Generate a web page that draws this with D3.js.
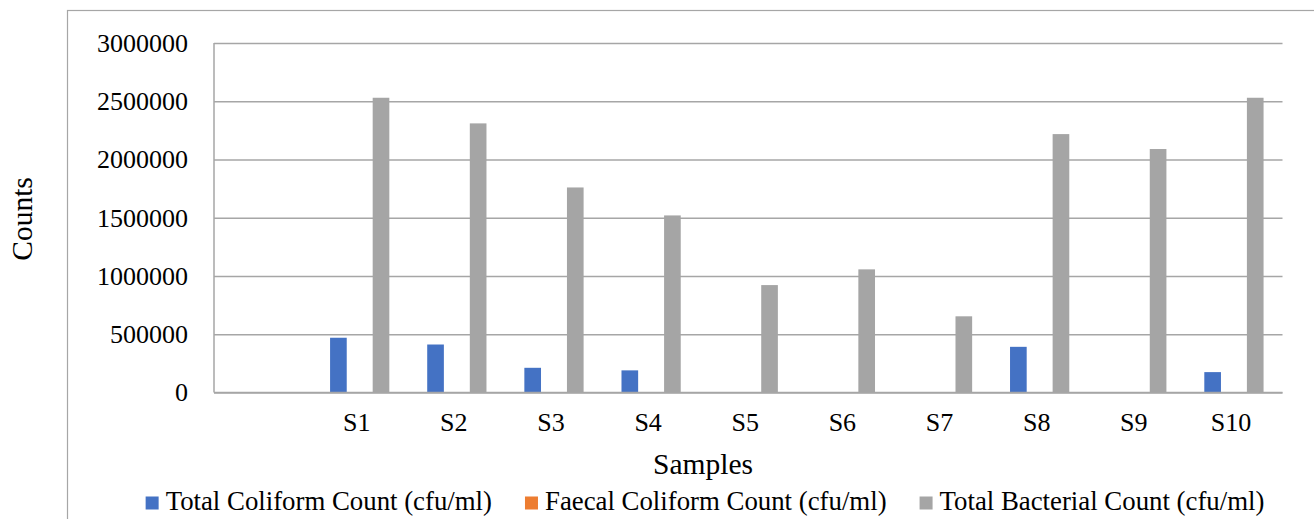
<!DOCTYPE html>
<html>
<head>
<meta charset="utf-8">
<script src="https://cdn.jsdelivr.net/npm/d3@7"></script>
<style>
  html, body { margin: 0; padding: 0; background: #ffffff; }
  svg { display: block; }
  text { font-family: "Liberation Serif", "Times New Roman", serif; fill: #000; }
</style>
</head>
<body>
<svg id="chart" width="1314" height="519"></svg>
<script>
// Sample categories (the first, unlabeled slot is left empty)
const categories = ["", "S1", "S2", "S3", "S4", "S5", "S6", "S7", "S8", "S9", "S10"];
const seriesNames = ["Total Coliform Count (cfu/ml)", "Faecal Coliform Count (cfu/ml)", "Total Bacterial Count (cfu/ml)"];
const seriesColors = ["#4472C4", "#ED7D31", "#A5A5A5"];

// Counts per sample (cfu/ml)
const totalColiform   = [0, 470000, 412000, 212000, 190000, 0, 0, 0, 392000, 0, 175000];
const faecalColiform  = [0, 0, 0, 0, 0, 0, 0, 0, 0, 0, 0];
const totalBacterial  = [0, 2530000, 2310000, 1760000, 1520000, 922000, 1057000, 654000, 2218000, 2090000, 2530000];

const yTicks = [0, 500000, 1000000, 1500000, 2000000, 2500000, 3000000];

const seriesValues = [totalColiform, faecalColiform, totalBacterial];
const serif = "'Liberation Serif', 'Times New Roman', serif";

const svg = d3.select("#chart");

// Chart-area border
svg.append("rect")
  .attr("x", 67.5).attr("y", 10.5)
  .attr("width", 1300).attr("height", 600)
  .attr("fill", "none").attr("stroke", "#a6a6a6").attr("stroke-width", 1.2);

const plot = { left: 214, right: 1282.5, top: 43, bottom: 392.5 };

const x0 = d3.scaleBand()
  .domain(categories)
  .range([plot.left, plot.right])
  .paddingInner(0.39)
  .paddingOuter(0.195);

const x1 = d3.scaleBand()
  .domain(d3.range(seriesNames.length))
  .range([0, x0.bandwidth()])
  .paddingInner(0.218)
  .paddingOuter(0);

const y = d3.scaleLinear()
  .domain([0, 3000000])
  .range([plot.bottom, plot.top]);

// Horizontal gridlines and value labels
const yAxis = d3.axisLeft(y)
  .tickValues(yTicks)
  .tickFormat(d3.format("d"))
  .tickSize(-(plot.right - plot.left))
  .tickPadding(26);

const gy = svg.append("g")
  .attr("transform", `translate(${plot.left},0)`)
  .call(yAxis);
gy.select(".domain").remove();
gy.selectAll(".tick line")
  .attr("stroke", "#a6a6a6").attr("stroke-width", 1.5);
gy.selectAll(".tick text")
  .attr("font-size", 26)
  .style("font-family", serif)
  .attr("fill", "#000");

// Left axis line
svg.append("line")
  .attr("x1", plot.left).attr("x2", plot.left)
  .attr("y1", plot.top).attr("y2", plot.bottom)
  .attr("stroke", "#a6a6a6").attr("stroke-width", 1.5);

// Bars
const groups = svg.append("g").selectAll("g")
  .data(categories)
  .join("g")
  .attr("transform", d => `translate(${x0(d)},0)`);

groups.selectAll("rect")
  .data((d, i) => seriesValues.map((vals, s) => ({ s, v: vals[i] })))
  .join("rect")
  .attr("x", d => x1(d.s))
  .attr("width", x1.bandwidth())
  .attr("y", d => y(d.v))
  .attr("height", d => y(0) - y(d.v))
  .attr("fill", d => seriesColors[d.s]);

// Zero line on top of bars
svg.append("line")
  .attr("x1", plot.left).attr("x2", plot.right)
  .attr("y1", y(0)).attr("y2", y(0))
  .attr("stroke", "#a6a6a6").attr("stroke-width", 1.5);

// Category labels
const xAxis = d3.axisBottom(x0).tickSize(0).tickPadding(20);
const gx = svg.append("g")
  .attr("transform", `translate(-3,${plot.bottom})`)
  .call(xAxis);
gx.select(".domain").remove();
gx.selectAll(".tick text")
  .attr("font-size", 26)
  .style("font-family", serif)
  .attr("fill", "#000");

// Axis titles
svg.append("text")
  .attr("x", 703).attr("y", 474)
  .attr("text-anchor", "middle")
  .attr("font-size", 29.5)
  .style("font-family", serif)
  .text("Samples");

svg.append("text")
  .attr("transform", "translate(32,219) rotate(-90)")
  .attr("text-anchor", "middle")
  .attr("font-size", 29.5)
  .style("font-family", serif)
  .text("Counts");

// Legend
const legend = svg.append("g");
const legendFont = 26.8, sq = 13, sqGap = 7, itemGap = 33;
let cursor = 0;
seriesNames.forEach((name, i) => {
  const g = legend.append("g");
  g.append("rect")
    .attr("x", 0).attr("y", -13.5)
    .attr("width", sq).attr("height", sq)
    .attr("fill", seriesColors[i]);
  const t = g.append("text")
    .attr("x", sq + sqGap).attr("y", 0)
    .attr("font-size", legendFont)
    .style("font-family", serif)
    .text(name);
  const w = sq + sqGap + t.node().getComputedTextLength();
  g.attr("transform", `translate(${cursor},0)`);
  cursor += w + itemGap;
});
const legendWidth = cursor - itemGap;
legend.attr("transform", `translate(${705 - legendWidth / 2},510)`);
</script>
</body>
</html>
